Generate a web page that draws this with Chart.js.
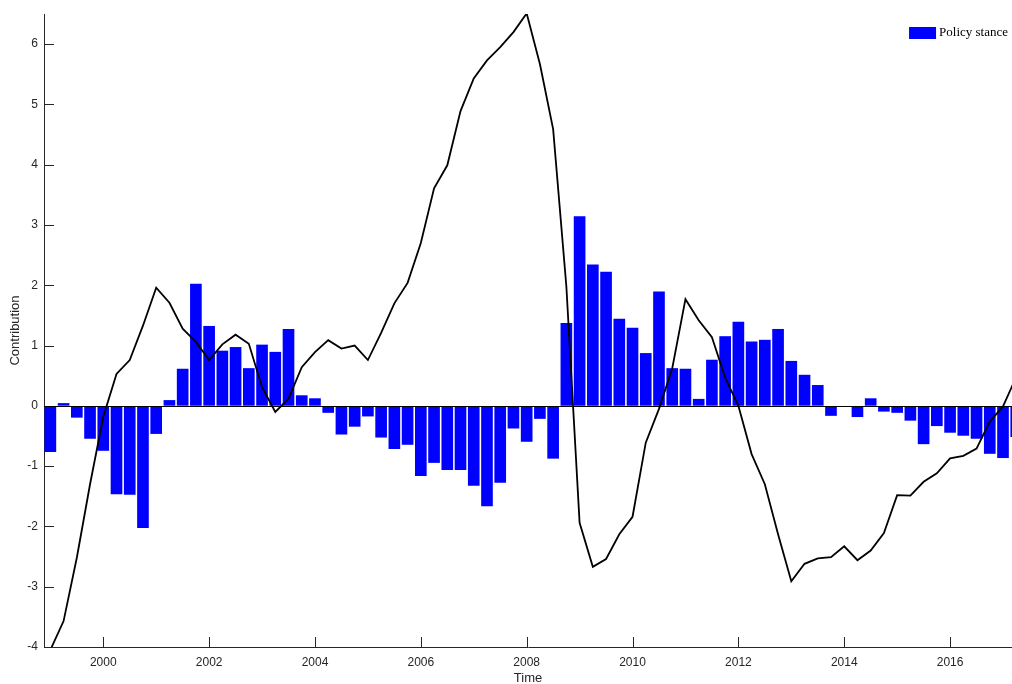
<!DOCTYPE html>
<html>
<head>
<meta charset="utf-8">
<script src="https://cdn.jsdelivr.net/npm/chart.js@4.4.1/dist/chart.umd.min.js"></script>
<style>
  html, body { margin: 0; padding: 0; background: #fff; }
  #wrap { width: 1012px; height: 684px; }
</style>
</head>
<body>
<div id="wrap"><canvas id="chart" width="1012" height="684"></canvas></div>
<script>
// quarterly observations
const quarters = [
  '1999Q1', '1999Q2', '1999Q3', '1999Q4', '2000Q1', '2000Q2', '2000Q3', '2000Q4',
  '2001Q1', '2001Q2', '2001Q3', '2001Q4', '2002Q1', '2002Q2', '2002Q3', '2002Q4',
  '2003Q1', '2003Q2', '2003Q3', '2003Q4', '2004Q1', '2004Q2', '2004Q3', '2004Q4',
  '2005Q1', '2005Q2', '2005Q3', '2005Q4', '2006Q1', '2006Q2', '2006Q3', '2006Q4',
  '2007Q1', '2007Q2', '2007Q3', '2007Q4', '2008Q1', '2008Q2', '2008Q3', '2008Q4',
  '2009Q1', '2009Q2', '2009Q3', '2009Q4', '2010Q1', '2010Q2', '2010Q3', '2010Q4',
  '2011Q1', '2011Q2', '2011Q3', '2011Q4', '2012Q1', '2012Q2', '2012Q3', '2012Q4',
  '2013Q1', '2013Q2', '2013Q3', '2013Q4', '2014Q1', '2014Q2', '2014Q3', '2014Q4',
  '2015Q1', '2015Q2', '2015Q3', '2015Q4', '2016Q1', '2016Q2', '2016Q3', '2016Q4',
  '2017Q1', '2017Q2',
];

const policyStance = [
  -0.76, 0.04, -0.19, -0.54, -0.74, -1.46, -1.47, -2.02,
  -0.46, 0.09, 0.61, 2.02, 1.32, 0.91, 0.97, 0.62,
  1.01, 0.89, 1.27, 0.17, 0.12, -0.11, -0.47, -0.34,
  -0.17, -0.52, -0.71, -0.64, -1.16, -0.94, -1.06, -1.06,
  -1.32, -1.66, -1.27, -0.37, -0.59, -0.21, -0.87, 1.37,
  3.14, 2.34, 2.22, 1.44, 1.29, 0.87, 1.89, 0.62,
  0.61, 0.11, 0.76, 1.15, 1.39, 1.06, 1.09, 1.27,
  0.74, 0.51, 0.34, -0.16, -0.01, -0.18, 0.12, -0.09,
  -0.11, -0.24, -0.63, -0.33, -0.44, -0.49, -0.54, -0.79,
  -0.86, -0.51,
];

const totalLine = [
  -4.05, -3.57, -2.52, -1.30, -0.18, 0.53, 0.76, 1.33,
  1.96, 1.71, 1.28, 1.06, 0.76, 1.02, 1.18, 1.03,
  0.31, -0.10, 0.12, 0.64, 0.89, 1.09, 0.95, 1.00,
  0.76, 1.21, 1.70, 2.04, 2.70, 3.61, 3.99, 4.89,
  5.43, 5.73, 5.95, 6.20, 6.51, 5.67, 4.59, 1.98,
  -1.94, -2.67, -2.54, -2.13, -1.84, -0.61, -0.05, 0.62,
  1.77, 1.42, 1.14, 0.47, 0.00, -0.80, -1.30, -2.13,
  -2.91, -2.62, -2.53, -2.51, -2.33, -2.56, -2.40, -2.11,
  -1.48, -1.49, -1.26, -1.12, -0.87, -0.83, -0.71, -0.26,
  -0.01, 0.48,
];

const xTicks = [2000, 2002, 2004, 2006, 2008, 2010, 2012, 2014, 2016];
const yTicks = [-4, -3, -2, -1, 0, 1, 2, 3, 4, 5, 6];

const axisColor = '#262626';
const tickFont = { family: 'Liberation Sans', size: 12 };

// '2003Q2' -> 2003.25
function quarterToYear(q) {
  const [yr, qq] = q.split('Q');
  return Number(yr) + (Number(qq) - 1) / 4;
}
const xs = quarters.map(quarterToYear);

// inward ticks, bar baseline and the legend box, matlab style
const matlabAxes = {
  id: 'matlabAxes',
  beforeDatasetsDraw(chart) {
    const { ctx, chartArea, scales: { x, y } } = chart;
    const len = 10;
    ctx.save();
    ctx.strokeStyle = axisColor;
    ctx.lineWidth = 1;
    ctx.beginPath();
    x.ticks.forEach((t) => {
      const px = Math.round(x.getPixelForValue(t.value)) + 0.5;
      ctx.moveTo(px, chartArea.bottom);
      ctx.lineTo(px, chartArea.bottom - len);
    });
    y.ticks.forEach((t) => {
      const py = Math.round(y.getPixelForValue(t.value)) + 0.5;
      ctx.moveTo(chartArea.left, py);
      ctx.lineTo(chartArea.left + len, py);
    });
    ctx.stroke();
    ctx.restore();
  },
  afterDatasetDraw(chart, args) {
    if (chart.data.datasets[args.index].type !== 'bar') return;
    const { ctx, chartArea, scales: { y } } = chart;
    const py = Math.round(y.getPixelForValue(0)) + 0.5;
    ctx.save();
    ctx.strokeStyle = '#000';
    ctx.lineWidth = 1;
    ctx.beginPath();
    ctx.moveTo(chartArea.left, py);
    ctx.lineTo(chartArea.right, py);
    ctx.stroke();
    ctx.restore();
  },
  afterDraw(chart) {
    const { ctx, chartArea } = chart;
    const ds = chart.data.datasets[0];
    ctx.save();
    ctx.font = '13px "Liberation Serif"';
    ctx.textBaseline = 'middle';
    const tw = ctx.measureText(ds.label).width;
    const textX = chartArea.right - 4 - tw;
    const boxX = textX - 3 - 27;
    ctx.fillStyle = ds.backgroundColor;
    ctx.fillRect(boxX, chartArea.top + 13, 27, 12);
    ctx.fillStyle = '#000';
    ctx.fillText(ds.label, textX, chartArea.top + 19);
    ctx.restore();
  },
};

const ctx = document.getElementById('chart');

new Chart(ctx, {
  type: 'bar',
  data: {
    datasets: [
      {
        type: 'bar',
        label: 'Policy stance',
        data: xs.map((x, i) => ({ x, y: policyStance[i] })),
        backgroundColor: '#0000ff',
        borderWidth: 0,
        barThickness: 11,
        order: 2,
        clip: 0,
      },
      {
        type: 'line',
        label: 'Total',
        data: xs.map((x, i) => ({ x, y: totalLine[i] })),
        borderColor: '#000000',
        borderWidth: 1.8,
        pointRadius: 0,
        tension: 0,
        fill: false,
        order: 1,
        clip: 0,
      },
    ],
  },
  options: {
    responsive: false,
    animation: false,
    events: [],
    layout: { padding: { top: 14, right: 0, left: 0, bottom: 0 } },
    scales: {
      x: {
        type: 'linear',
        offset: false,
        min: 1998.88,
        max: 2017.17,
        afterBuildTicks: (scale) => { scale.ticks = xTicks.map((v) => ({ value: v })); },
        afterFit: (scale) => { scale.height = 37; },
        ticks: {
          color: axisColor,
          font: tickFont,
          padding: 8,
          maxRotation: 0,
          callback: (v) => String(v),
        },
        grid: { display: true, drawOnChartArea: false, drawTicks: false },
        border: { display: true, color: axisColor, width: 1 },
        title: {
          display: true,
          text: 'Time',
          color: axisColor,
          font: { family: 'Liberation Sans', size: 13 },
          padding: { top: 0, bottom: -2 },
        },
      },
      y: {
        min: -4,
        max: 6.5,
        afterBuildTicks: (scale) => { scale.ticks = yTicks.map((v) => ({ value: v })); },
        afterFit: (scale) => { scale.width = 44; },
        ticks: {
          color: axisColor,
          font: tickFont,
          padding: 6,
          callback: (v) => String(v),
        },
        grid: { display: true, drawOnChartArea: false, drawTicks: false },
        border: { display: true, color: axisColor, width: 1 },
        title: {
          display: true,
          text: 'Contribution',
          color: axisColor,
          font: { family: 'Liberation Sans', size: 13 },
          padding: { top: 8, bottom: 0 },
        },
      },
    },
    plugins: {
      legend: { display: false },
      tooltip: { enabled: false },
    },
  },
  plugins: [matlabAxes],
});
</script>
</body>
</html>
